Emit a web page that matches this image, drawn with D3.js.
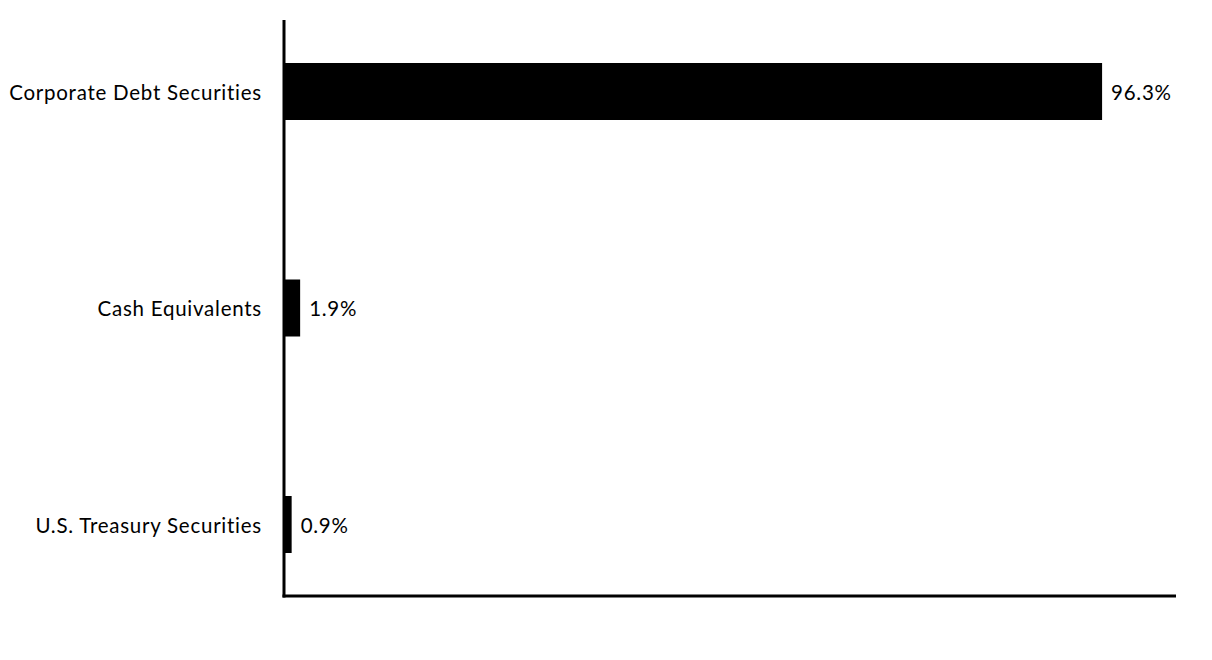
<!DOCTYPE html>
<html><head><meta charset="utf-8">
<script src="https://cdn.jsdelivr.net/npm/d3@7"></script>
<style>body{margin:0;background:#fff}svg{display:block}text{font-family:Lato,"Open Sans",sans-serif;fill:#000;letter-spacing:0.75px}</style>
</head><body>
<svg id="c" width="1212" height="660"></svg>
<script>
const categories = ["Corporate Debt Securities", "Cash Equivalents", "U.S. Treasury Securities"];
const values = [96.3, 1.9, 0.9];
const valueLabels = ["96.3%", "1.9%", "0.9%"];

const svg = d3.select("#c");
const x0 = 284, x1 = 1176, yTop = 20, yBot = 596;
const x = d3.scaleLinear().domain([0, 105]).range([x0, x1]);
const y = d3.scalePoint().domain(categories).range([91.5, 524.5]);
const bh = 57;

svg.selectAll("rect.bar").data(categories).join("rect")
  .attr("class","bar")
  .attr("x", x0)
  .attr("y", d => y(d) - bh/2)
  .attr("width", (d,i) => x(values[i]) - x0)
  .attr("height", bh)
  .attr("fill", "#000");

svg.selectAll("text.cat").data(categories).join("text")
  .attr("class","cat")
  .attr("x", 262).attr("y", d => y(d))
  .attr("text-anchor","end").attr("dominant-baseline","central")
  .attr("font-size", 20.5).text(d => d);

svg.selectAll("text.val").data(categories).join("text")
  .attr("class","val")
  .attr("x", (d,i) => x(values[i]) + 9).attr("y", d => y(d))
  .attr("dominant-baseline","central")
  .attr("font-size", 20.5).text((d,i) => valueLabels[i]);

svg.append("line").attr("x1", x0).attr("x2", x0).attr("y1", yTop).attr("y2", yBot+1.5)
  .attr("stroke","#000").attr("stroke-width",3);
svg.append("line").attr("x1", x0-1.5).attr("x2", x1).attr("y1", yBot).attr("y2", yBot)
  .attr("stroke","#000").attr("stroke-width",3);
</script>
</body></html>
